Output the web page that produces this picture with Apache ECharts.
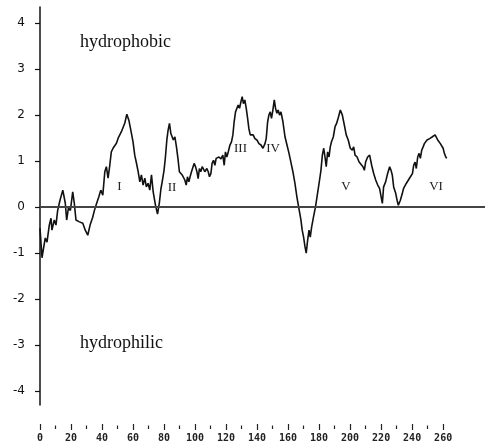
<!DOCTYPE html>
<html>
<head>
<meta charset="utf-8">
<script src="https://cdn.jsdelivr.net/npm/echarts@6/dist/echarts.min.js"></script>
<style>html,body{margin:0;padding:0;background:#fff}#c{width:485px;height:443px}</style>
</head>
<body>
<div id="c"></div>
<script>
var residue = [0,1.3,2.1,3.4,4.5,6.0,7.1,7.7,9.2,10.3,11.4,12.9,14.7,16.3,17.2,18.3,19.6,21.1,22.1,23.2,25.4,27.6,29.2,30.8,32.3,34.0,35.1,36.6,37.9,39.2,40.5,41.8,42.8,43.9,45.0,46.0,47.1,48.2,49.3,50.4,51.4,52.5,53.6,54.7,56.0,57.3,58.6,60.0,61.1,62.2,63.3,64.4,65.4,66.5,67.6,68.6,69.7,70.8,71.9,73.0,74.5,75.8,77.0,78.0,78.8,80.0,80.9,81.8,82.6,83.5,84.4,85.2,86.0,87.0,88.0,89.1,89.9,90.8,91.7,92.5,93.4,94.3,95.1,96.0,96.8,97.7,98.6,99.4,100.3,101.2,102.0,102.8,103.7,104.6,105.4,106.3,107.6,108.5,109.3,110.2,111.0,111.9,112.8,113.6,114.5,115.4,116.7,117.9,118.8,119.6,120.5,121.4,122.5,123.5,124.4,125.2,126.1,127.0,127.8,128.7,129.6,130.4,131.2,132.1,133.0,133.9,134.7,135.6,136.4,137.5,138.6,139.9,141.2,142.5,143.8,145.1,145.9,146.8,147.6,148.5,149.3,150.2,151.1,151.9,152.8,153.6,154.5,155.4,156.7,158.0,159.3,160.6,161.8,163.1,164.4,165.7,167.0,168.3,169.1,170.0,170.9,171.7,172.6,173.5,174.3,175.2,176.4,177.7,179.0,180.3,181.2,182.1,183.0,183.8,184.6,185.5,186.4,187.2,188.0,189.2,190.3,191.3,192.4,193.7,195.0,196.3,197.5,198.8,200.1,201.4,202.3,203.2,204.5,205.8,207.0,208.3,209.2,210.0,211.3,212.6,213.9,215.2,216.5,217.8,219.0,219.9,220.8,221.6,222.9,224.2,225.5,226.4,227.2,228.1,229.4,230.3,231.1,232.4,233.7,234.5,235.4,236.3,237.6,238.9,240.2,241.0,241.9,242.7,243.6,244.5,245.3,246.2,247.1,247.9,248.7,249.6,250.5,251.3,252.2,253.1,253.9,254.8,255.6,256.5,257.4,258.2,259.1,260.0,260.8,261.7,262.3];
var hydropathy = [-0.46,-1.1,-0.93,-0.67,-0.76,-0.39,-0.24,-0.5,-0.28,-0.39,-0.07,0.15,0.37,0.09,-0.28,-0.02,-0.07,0.33,0.09,-0.28,-0.32,-0.35,-0.5,-0.61,-0.39,-0.22,-0.07,0.09,0.22,0.37,0.26,0.77,0.88,0.63,0.91,1.2,1.28,1.24,1.39,1.5,1.46,1.64,1.67,1.83,2.02,1.89,1.67,1.42,1.13,0.96,0.77,0.55,0.7,0.48,0.63,0.44,0.52,0.37,0.7,0.33,0.04,-0.15,0.1,0.4,0.55,0.8,1.09,1.46,1.67,1.82,1.6,1.64,1.46,1.53,1.31,1.02,0.77,0.8,0.7,0.73,0.59,0.48,0.66,0.55,0.66,0.77,0.73,0.95,0.88,0.77,0.62,0.84,0.77,0.88,0.84,0.77,0.84,0.77,0.66,0.73,0.95,1.02,0.91,1.06,1.02,1.09,1.05,1.13,0.91,1.2,1.09,1.2,1.35,1.42,1.57,1.85,2.07,2.15,2.22,2.15,2.29,2.4,2.25,2.33,2.15,1.93,1.71,1.57,1.53,1.57,1.49,1.46,1.38,1.35,1.28,1.38,1.49,1.85,2.0,2.07,1.93,2.11,2.33,2.15,2.04,2.11,2.0,2.07,1.85,1.53,1.35,1.17,0.98,0.77,0.52,0.22,-0.03,-0.28,-0.5,-0.65,-0.86,-1.0,-0.72,-0.5,-0.65,-0.43,-0.21,0.01,0.3,0.59,0.8,1.13,1.28,1.09,0.88,1.2,1.09,1.31,1.42,1.53,1.75,1.82,1.95,2.11,2.0,1.78,1.57,1.46,1.28,1.24,1.31,1.13,1.09,0.98,0.95,0.88,0.8,0.98,1.09,1.13,0.91,0.73,0.59,0.48,0.41,0.37,0.08,0.44,0.55,0.73,0.88,0.8,0.7,0.44,0.3,0.15,0.04,0.15,0.3,0.41,0.37,0.52,0.59,0.66,0.73,0.91,0.98,0.84,1.09,1.17,1.06,1.24,1.31,1.38,1.35,1.46,1.42,1.49,1.46,1.53,1.49,1.57,1.53,1.46,1.49,1.38,1.35,1.28,1.17,1.09,1.06];
var xMajorTicks = [0,20,40,60,80,100,120,140,160,180,200,220,240,260];
var xMinorTicks = [10,30,50,70,90,110,130,150,170,190,210,230,250];
var yTicks = [-4,-3,-2,-1,0,1,2,3,4];
var regionLabels = ['I','II','III','IV','V','VI'];
var regionPos = [[119.5,187],[172,188],[240.5,149],[273,149],[346,187],[436,187]];

var chart = echarts.init(document.getElementById('c'), null, {renderer:'canvas'});
var pts = residue.map(function(x,i){return [x, hydropathy[i]];});
var graphics = [
  {type:'text', left:80, top:33, style:{text:'hydrophobic', font:'18px "Liberation Serif"', fill:'#111'}},
  {type:'text', left:80, top:334, style:{text:'hydrophilic', font:'18px "Liberation Serif"', fill:'#111'}}
];
regionLabels.forEach(function(t,i){
  graphics.push({type:'text', x:regionPos[i][0], y:regionPos[i][1], style:{text:t, font:'13px "Liberation Serif"', fill:'#222', align:'center', verticalAlign:'middle'}});
});
chart.setOption({
  animation:false,
  backgroundColor:'#fff',
  grid:{left:40, right:0, top:7, bottom:38},
  xAxis:[{
    type:'value', min:0, max:287, position:'bottom', offset:19,
    axisLine:{show:false, onZero:false}, splitLine:{show:false},
    axisTick:{show:true, length:6, customValues:xMajorTicks, lineStyle:{color:'#222', width:1.2}},
    axisLabel:{customValues:xMajorTicks, margin:9, fontFamily:'DejaVu Sans Mono', fontSize:10, color:'#222', fontWeight:'bold'}
  },{
    type:'value', min:0, max:287, position:'bottom', offset:20.5,
    axisLine:{show:false, onZero:false}, splitLine:{show:false},
    axisTick:{show:true, length:3.5, customValues:xMinorTicks, lineStyle:{color:'#222', width:1.2}},
    axisLabel:{show:false}
  }],
  yAxis:{
    type:'value', min:-4.3, max:4.35,
    axisLine:{show:true, onZero:false, lineStyle:{color:'#111', width:1.5}},
    axisTick:{show:true, length:5, customValues:yTicks, lineStyle:{color:'#111', width:1.2}},
    axisLabel:{customValues:yTicks, margin:15, fontFamily:'DejaVu Sans', fontSize:12, color:'#111'},
    splitLine:{show:false}
  },
  graphic:graphics,
  series:[{
    type:'line', data:pts, xAxisIndex:0, showSymbol:false, symbol:'none',
    lineStyle:{color:'#111', width:1.6},
    markLine:{silent:true, symbol:['none','none'], label:{show:false},
      lineStyle:{color:'#444', width:2, type:'solid'}, data:[{yAxis:0}]}
  }]
});
</script>
</body>
</html>
